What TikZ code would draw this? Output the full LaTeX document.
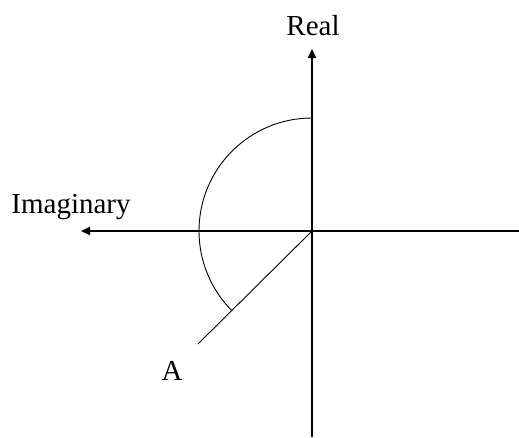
\documentclass[tikz,border=0pt]{standalone}
\usepackage{fontspec}
\setmainfont{Liberation Serif}
\usetikzlibrary{arrows.meta}
\tikzset{
  axisline/.style={line width=1.6pt,draw=black},
  axisarrow/.style={axisline,-{Triangle[length=9pt,width=8pt]}},
  thinline/.style={line width=0.9pt,draw=black},
  axislabel/.style={font=\fontsize{29}{32}\selectfont,inner sep=0pt}
}
\begin{document}
\begin{tikzpicture}[x=1pt,y=-1pt]
    \useasboundingbox (0,0) rectangle (519,437);
    \coordinate (o) at (312,231);
    \coordinate (top) at (312,49);
    \coordinate (bot) at (312,437);
    \coordinate (left) at (81,231);
    \coordinate (right) at (519,231);
    \coordinate (aend) at (198,344);
    \coordinate (arctop) at (312,118);
    \node[axislabel] (real) at (313,26) {Real};
    \node[axislabel] (imag) at (71,207) {Imaginary};
    \node[axislabel] (a) at (172,371) {A};
    \draw[axisarrow] (bot)--(top);
    \draw[axisarrow] (right)--(left);
    \draw[thinline] (o)--(aend);
    \draw[thinline] (arctop) arc[start angle=-90,end angle=-225,radius=113];
  \end{tikzpicture}
\end{document}
